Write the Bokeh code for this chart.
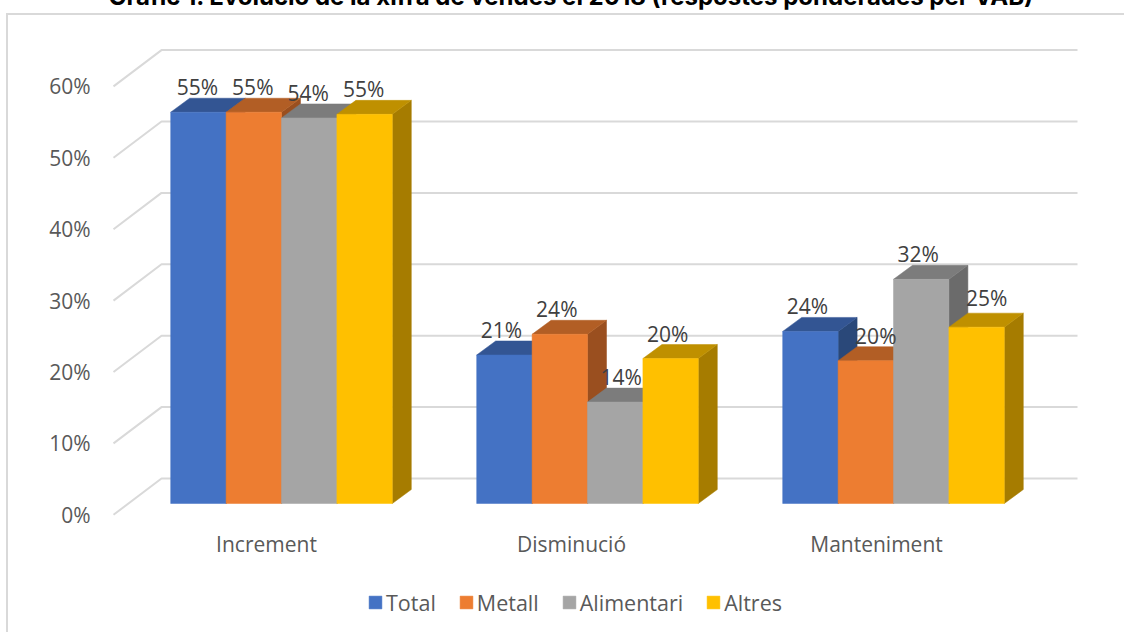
from bokeh.plotting import figure
from bokeh.embed import file_html
from bokeh.resources import INLINE
from bokeh.models import (ColumnDataSource, Range1d, LinearAxis, FixedTicker, Legend, LegendItem,
                          PrintfTickFormatter)
from bokeh.core.properties import value

TITLE = "Gràfic 1. Evolució de la xifra de vendes el 2018 (respostes ponderades per VAB)"
categories = ["Increment", "Disminució", "Manteniment"]
series = ["Total", "Metall", "Alimentari", "Altres"]
total = [54.8, 20.8, 24.1]
metall = [54.8, 23.7, 20.0]
alimentari = [54.0, 14.2, 31.4]
altres = [54.5, 20.3, 24.7]
labels_total = ["55%", "21%", "24%"]
labels_metall = ["55%", "24%", "20%"]
labels_alimentari = ["54%", "14%", "32%"]
labels_altres = ["55%", "20%", "25%"]
y_ticks = [0, 10, 20, 30, 40, 50, 60]

front_colors = ["#4472C4", "#ED7D31", "#A5A5A5", "#FFC000"]
top_colors = ["#335593", "#B25E25", "#7C7C7C", "#BF9000"]
side_colors = ["#2A4879", "#9A4F1F", "#6B6B6B", "#A67C00"]
GRID = "#D9D9D9"
FONT = "Open Sans"

# layout in page pixels
FRAME_L, FRAME_R, FRAME_T, FRAME_B = 97, 1124, 15, 640
PX_PER_GROUP = 306.0
PX_PER_PCT = 7.14
CENTER0 = 281.0     # centre of first group's front
BASE = 503.0        # front base line of bars
BAR_W = 55.4
DEPTH_X, DEPTH_Y = 19.0, 14.0
SHIFT_TOP = 26.5    # how far the figure's top (the title panel) lies above the page's top
BORDER_X, BORDER_Y = 6, 13
AXIS_Y = 523.0      # page row of the category axis

xu = lambda px: (px - CENTER0) / PX_PER_GROUP
yu = lambda py: (BASE - py) / PX_PER_PCT

p = figure(frame_width=FRAME_R - FRAME_L, frame_height=FRAME_B - FRAME_T,
           x_range=Range1d(xu(FRAME_L), xu(FRAME_R)), y_range=Range1d(yu(FRAME_B), yu(FRAME_T)),
           x_axis_type=None, y_axis_type=None, toolbar_location=None, output_backend="svg",
           min_border_left=FRAME_L, min_border_right=0, min_border_top=0, min_border_bottom=0,
           outline_line_color=None, background_fill_alpha=0, border_fill_alpha=0,
           title=TITLE)
p.styles = {
    "margin-left": "0px", "margin-top": f"-{SHIFT_TOP}px", "margin-bottom": "-60px",
    "background-color": "white",
    "background-image": f"linear-gradient({GRID},{GRID}),linear-gradient({GRID},{GRID})",
    "background-repeat": "no-repeat",
    "background-size": "2px 100%,100% 2px",
    "background-position": f"{BORDER_X}px {SHIFT_TOP + BORDER_Y}px,{BORDER_X}px {SHIFT_TOP + BORDER_Y}px",
}
p.grid.visible = False
p.title.text_font = "Inter"
p.title.text_font_size = "24px"
p.title.text_font_style = "bold"
p.title.text_color = "#000000"
p.title.align = "left"
p.title.offset = 11

# y axis: labelled at the front edge of the floor
TICK_0 = 514.3
p.extra_y_ranges["front"] = Range1d((TICK_0 - FRAME_B) / PX_PER_PCT, (TICK_0 - FRAME_T) / PX_PER_PCT)
yaxis = LinearAxis(y_range_name="front", ticker=FixedTicker(ticks=y_ticks),
                   formatter=PrintfTickFormatter(format="%d%%"))
yaxis.axis_line_color = None
yaxis.major_tick_line_color = None
yaxis.minor_tick_line_color = None
yaxis.major_label_text_font = FONT
yaxis.major_label_text_font_size = "21px"
yaxis.major_label_text_color = "#595959"
yaxis.major_label_standoff = 1
p.add_layout(yaxis, "left")

# x axis: group names
LABEL_CX = 266.0
LABEL_STEP = 305.0
p.extra_x_ranges["groups"] = Range1d((FRAME_L - LABEL_CX) / LABEL_STEP, (FRAME_R - LABEL_CX) / LABEL_STEP)
xaxis = LinearAxis(x_range_name="groups", ticker=FixedTicker(ticks=list(range(len(categories)))),
                   major_label_overrides={i: c for i, c in enumerate(categories)},
                   fixed_location=yu(AXIS_Y))
xaxis.axis_line_color = None
xaxis.major_tick_line_color = None
xaxis.minor_tick_line_color = None
xaxis.major_label_text_font = FONT
xaxis.major_label_text_font_size = "21px"
xaxis.major_label_text_color = "#595959"
xaxis.major_label_standoff = 0
p.add_layout(xaxis, "below")

# walls: gridlines with their floor diagonal
WALL_L, WALL_R = 161.0, 1077.0
WALL_SHIFT_Y = 25.0   # back wall zero sits above the bar base
DIAG_L = 113.0
DIAG_SHIFT_Y = 11.3
xs, ys = [], []
for t in y_ticks:
    xs.append([xu(DIAG_L), xu(WALL_L), xu(WALL_R)])
    ys.append([t - DIAG_SHIFT_Y / PX_PER_PCT, t + WALL_SHIFT_Y / PX_PER_PCT, t + WALL_SHIFT_Y / PX_PER_PCT])
p.multi_line(xs, ys, line_color=GRID, line_width=2)

# bars
dx = DEPTH_X / PX_PER_GROUP
dy = DEPTH_Y / PX_PER_PCT
w = BAR_W / PX_PER_GROUP
all_values = [total, metall, alimentari, altres]
all_labels = [labels_total, labels_metall, labels_alimentari, labels_altres]
# small shifts that the reference applies to some value labels: (series, group) -> (right, up)
label_nudge = {(2, 1): (6, 0), (1, 2): (10, 0), (3, 2): (10, 4), (0, 1): (-3, 0), (1, 1): (-3, 0),
               (3, 1): (-3, 0), (0, 2): (-3, 0), (2, 2): (-3, 0), (0, 0): (-1, 0), (1, 0): (-1, 0),
               (2, 0): (-1, 0), (3, 0): (-1, 0)}
front_renderers = []
lx, ly, lt, ox, oy = [], [], [], [], []
for s, vals in enumerate(all_values):
    side_x, side_y, top_x, top_y = [], [], [], []
    left = [g + (s - 2) * w for g in range(3)]
    right = [l + w for l in left]
    for l, r, v in zip(left, right, vals):
        side_x.append([r, r + dx, r + dx, r])
        side_y.append([0, dy, v + dy, v])
        top_x.append([l, l + dx, r + dx, r])
        top_y.append([v, v + dy, v + dy, v])
    p.patches(side_x, side_y, fill_color=side_colors[s], line_color=side_colors[s], line_width=0.5)
    p.patches(top_x, top_y, fill_color=top_colors[s], line_color=top_colors[s], line_width=0.5)
    fr = p.quad(left=left, right=right, bottom=[0] * 3, top=vals,
                fill_color=front_colors[s], line_color=front_colors[s], line_width=0.5)
    front_renderers.append(fr)
    for g in range(3):
        n = label_nudge.get((s, g), (0, 0))
        lx.append((left[g] + right[g]) / 2)
        ly.append(vals[g])
        lt.append(all_labels[s][g])
        ox.append(n[0])
        oy.append(-25 - n[1])

src = ColumnDataSource(dict(x=lx, y=ly, t=lt, ox=ox, oy=oy))
p.text(x="x", y="y", text="t", source=src, x_offset="ox", y_offset="oy", text_font=value(FONT),
       text_font_size="21px", text_color="#404040", text_align="center", text_baseline="middle")

LEGEND_L, LEGEND_B = 367, 617
legend = Legend(items=[LegendItem(label=n, renderers=[r]) for n, r in zip(series, front_renderers)],
                orientation="horizontal", location=(LEGEND_L - FRAME_L, FRAME_B - LEGEND_B), border_line_color=None,
                background_fill_alpha=0, glyph_width=16, glyph_height=16, label_standoff=3, spacing=22,
                label_text_font=FONT, label_text_font_size="21.5px", label_text_color="#595959",
                margin=0, padding=0)
p.add_layout(legend, "center")

open("out.html", "w").write(file_html(p, INLINE))
